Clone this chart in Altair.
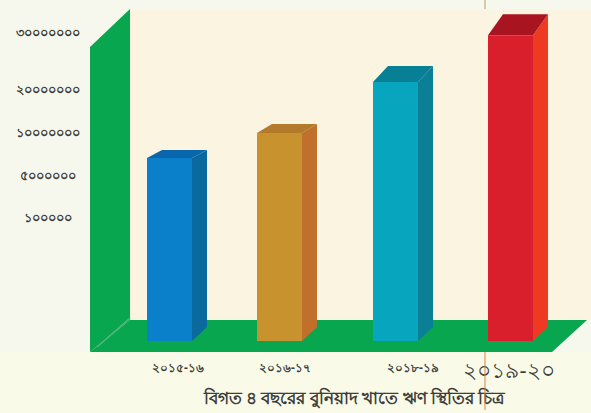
import altair as alt
import numpy as np
import pandas as pd

# Chart content
years = ["২০১৫-১৬", "২০১৬-১৭", "২০১৮-১৯", "২০১৯-২০"]
loans = [7100000, 10000000, 21400000, 29600000]
tick_values = [100000, 5000000, 10000000, 20000000, 30000000]
tick_labels = ["১০০০০০", "৫০০০০০০", "১০০০০০০০", "২০০০০০০০", "৩০০০০০০০"]
caption = "বিগত ৪ বছরের বুনিয়াদ খাতে ঋণ স্থিতির চিত্র"

# The printed axis is not evenly spaced, so the value scale is piecewise linear
W, H = 591, 413
scale_pixels = [413, 340, 218, 176, 133, 90, 33, 0]
scale_values = [-60000, 0, 100000, 5000000, 10000000, 20000000, 30000000, 35800000]
x_scale = alt.Scale(domain=[0, W], range=[0, W])
y_scale = alt.Scale(domain=scale_values, range=scale_pixels)


def val(py):
    """Value on the y scale that lands at a given height on the page."""
    return float(np.interp(py, scale_pixels[::-1], scale_values[::-1]))


def top_of(v):
    """Height on the page of a value."""
    return float(np.interp(v, scale_values, scale_pixels))


def band_v(rows, color):
    """Filled face whose left and right edges are vertical: (x, top, bottom)."""
    df = pd.DataFrame(
        [{"x": x, "y": val(a), "y2": val(b)} for x, a, b in rows]
    )
    return alt.Chart(df).mark_area(color=color, orient="vertical", opacity=1).encode(
        x=alt.X("x:Q", scale=x_scale, axis=None),
        y=alt.Y("y:Q", scale=y_scale, axis=None),
        y2="y2:Q",
    )


def band_h(rows, color):
    """Filled face whose top and bottom edges are horizontal: (y, left, right)."""
    df = pd.DataFrame([{"y": val(y), "x": a, "x2": b} for y, a, b in rows])
    return alt.Chart(df).mark_area(color=color, orient="horizontal", opacity=1).encode(
        y=alt.Y("y:Q", scale=y_scale, axis=None),
        x=alt.X("x:Q", scale=x_scale, axis=None),
        x2="x2:Q",
    )


def label(rows, size, color="#3f3f3a", weight="bold"):
    df = pd.DataFrame([{"x": x, "y": val(y), "t": t} for x, y, t in rows])
    return alt.Chart(df).mark_text(
        fontSize=size, color=color, align="center", baseline="middle",
        font="Noto Sans", fontWeight=weight,
    ).encode(
        x=alt.X("x:Q", scale=x_scale, axis=None),
        y=alt.Y("y:Q", scale=y_scale, axis=None),
        text="t:N",
    )


def rule(x, a, b, color):
    df = pd.DataFrame({"x": [x], "y": [val(a)], "y2": [val(b)]})
    return alt.Chart(df).mark_rule(color=color, strokeWidth=1).encode(
        x=alt.X("x:Q", scale=x_scale, axis=None),
        y=alt.Y("y:Q", scale=y_scale, axis=None),
        y2="y2:Q",
    )


layers = [
    # Cream back panel, wall and floor
    band_v([(130, 10, 320), (591, 10, 320)], "#fbf4e1"),
    band_v([(0, 352, 413), (591, 352, 413)], "#fafae9"),
    band_v([(90, 47, 352), (130, 9, 320)], "#09a650"),
    band_h([(320, 130, 587), (352, 90, 552)], "#09a650"),
    band_h([(318, 129, 131), (347, 96, 98)], "#54b97e"),
]

# Bars: front, side and top faces with their depth on the page
bar_left = [147, 257, 373, 488]
bar_width = 45
depth_x = 15
depth_y = [8, 9, 16, 21]
front_colors = ["#0a80ca", "#c8922e", "#08a5bf", "#d91f2b"]
side_colors = ["#0a6a9d", "#c0702b", "#0a7f96", "#ee3a23"]
top_colors = ["#0a66aa", "#b37a2c", "#077f95", "#a8141f"]

for left, v, rise, fc, sc, tc in zip(
    bar_left, loans, depth_y, front_colors, side_colors, top_colors
):
    right = left + bar_width
    py = top_of(v)
    layers += [
        band_v([(right, py, 341), (right + depth_x, py - rise, 327)], sc),
        band_h([(py - rise, left + depth_x, right + depth_x), (py, left, right)], tc),
        band_v([(left, py, 341), (right, py, 341)], fc),
    ]

# Value labels, year labels and caption
layers += [
    label([(48, top_of(v), t) for v, t in zip(tick_values, tick_labels)], 12.5),
    label(list(zip([178, 285, 413], [368] * 3, years[:3])), 12),
    label([(509, 371, years[3])], 22, weight="normal"),
    label([(354, 399, caption)], 17),
    # Printed fold line crossing the page
    rule(485, 352, 410, "#d9833a"),
    rule(485, 0, 9, "#b9a060"),
]

chart = alt.layer(*layers).properties(
    width=W,
    height=H,
    padding=0,
    autosize=alt.AutoSizeParams(type="none"),
    background="#f6f8ee",
).configure_view(stroke=None)

chart.save("out.html", embed_options={"renderer": "svg", "actions": False})
